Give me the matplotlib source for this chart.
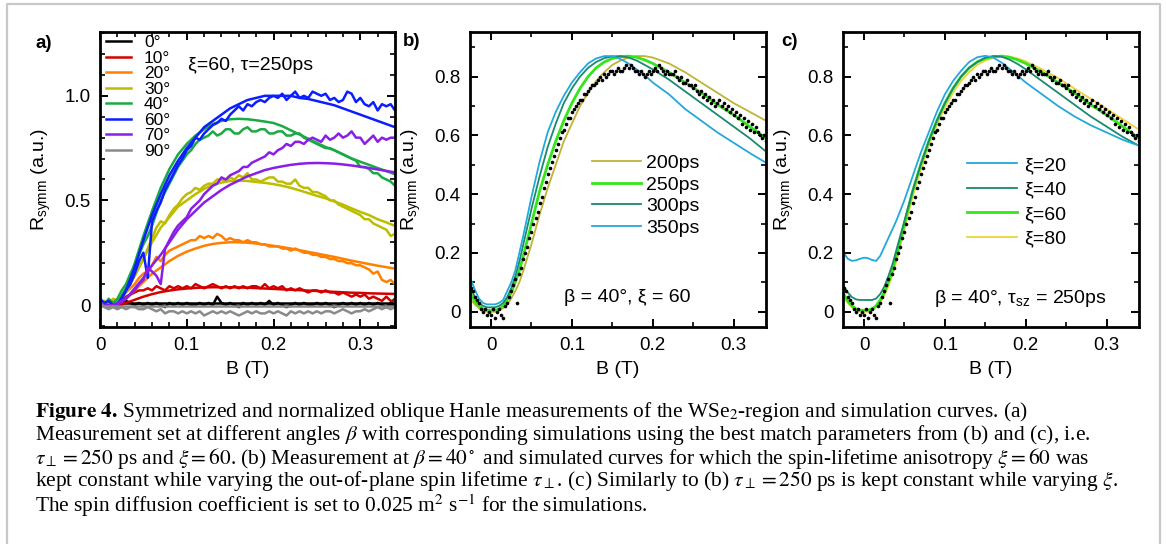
import numpy as np
import matplotlib
matplotlib.use("Agg")
import matplotlib.pyplot as plt
from matplotlib.lines import Line2D
from matplotlib.ticker import MultipleLocator, FuncFormatter

plt.rcParams['font.family'] = ['Liberation Sans', 'DejaVu Sans']
plt.rcParams['mathtext.fontset'] = 'custom'
plt.rcParams['mathtext.rm'] = 'Liberation Sans'
plt.rcParams['mathtext.it'] = 'Liberation Sans:italic'
plt.rcParams['mathtext.bf'] = 'Liberation Sans:bold'

###############################################################################
# (a) measured curves, B sweep 0 ... 0.34 T
B_meas = np.linspace(0, 0.34, 69)
angles = ['0°', '10°', '20°', '30°', '40°', '60°', '70°', '90°']
colors_a = ['#000000', '#d40000', '#ff8000', '#bdbd00', '#1aaa44', '#0a1eff', '#8a1ee6', '#8a8a8a']

meas_0 = [0.03, 0.00, 0.02, 0.00, 0.01, 0.00, 0.02, 0.01, 0.00, 0.01,
          0.00, 0.01, 0.00, 0.01, 0.00, -0.01, 0.01, 0.00, 0.01, 0.00,
          0.01, 0.00, 0.00, 0.01, 0.00, 0.01, 0.00, 0.04, 0.01, 0.00,
          0.01, 0.00, -0.01, 0.01, 0.00, 0.01, 0.00, 0.01, 0.00, 0.02,
          0.00, 0.01, 0.00, -0.01, 0.00, 0.01, 0.00, 0.01, 0.00, 0.00,
          0.01, 0.00, 0.01, 0.00, -0.01, 0.00, 0.01, 0.00, 0.01, 0.00,
          0.01, 0.00, 0.01, 0.00, 0.01, 0.00, -0.01, 0.01, 0.03]
meas_10 = [0.01, 0.00, 0.01, 0.00, 0.01, 0.02, 0.04, 0.05, 0.06, 0.07,
           0.07, 0.08, 0.07, 0.09, 0.08, 0.07, 0.09, 0.08, 0.09, 0.08,
           0.09, 0.08, 0.10, 0.09, 0.08, 0.09, 0.10, 0.09, 0.08, 0.09,
           0.08, 0.09, 0.08, 0.09, 0.08, 0.09, 0.09, 0.08, 0.10, 0.08,
           0.09, 0.08, 0.09, 0.07, 0.08, 0.07, 0.08, 0.07, 0.06, 0.07,
           0.07, 0.06, 0.07, 0.06, 0.06, 0.05, 0.06, 0.05, 0.04, 0.05,
           0.04, 0.05, 0.03, 0.04, 0.03, 0.02, 0.04, 0.02, 0.02]
meas_20 = [0.01, 0.00, 0.02, 0.01, 0.02, 0.04, 0.06, 0.08, 0.10, 0.13,
           0.15, 0.16, 0.19, 0.23, 0.21, 0.24, 0.26, 0.27, 0.28, 0.29,
           0.30, 0.31, 0.31, 0.33, 0.32, 0.33, 0.32, 0.34, 0.33, 0.31,
           0.32, 0.31, 0.31, 0.30, 0.31, 0.30, 0.30, 0.29, 0.29, 0.28,
           0.28, 0.28, 0.27, 0.27, 0.26, 0.27, 0.26, 0.25, 0.25, 0.24,
           0.24, 0.23, 0.23, 0.22, 0.22, 0.21, 0.21, 0.20, 0.20, 0.19,
           0.19, 0.18, 0.17, 0.15, 0.16, 0.12, 0.11, 0.12, 0.10]
meas_30 = [0.01, 0.02, 0.00, 0.03, 0.02, 0.04, 0.08, 0.11, 0.14, 0.18,
           0.22, 0.27, 0.32, 0.37, 0.40, 0.39, 0.43, 0.46, 0.48, 0.51,
           0.53, 0.54, 0.56, 0.55, 0.57, 0.58, 0.58, 0.60, 0.60, 0.59,
           0.61, 0.60, 0.62, 0.61, 0.63, 0.60, 0.60, 0.59, 0.60, 0.61,
           0.61, 0.59, 0.59, 0.58, 0.58, 0.60, 0.57, 0.56, 0.56, 0.54,
           0.54, 0.53, 0.52, 0.50, 0.50, 0.48, 0.47, 0.46, 0.45, 0.44,
           0.43, 0.41, 0.41, 0.39, 0.38, 0.37, 0.36, 0.33, 0.34]
meas_40 = [0.02, 0.00, 0.03, 0.01, 0.03, 0.07, 0.10, 0.15, 0.19, 0.24,
           0.29, 0.33, 0.38, 0.44, 0.50, 0.54, 0.58, 0.62, 0.66, 0.69,
           0.72, 0.74, 0.77, 0.79, 0.80, 0.81, 0.83, 0.81, 0.82, 0.84,
           0.84, 0.82, 0.82, 0.84, 0.85, 0.83, 0.83, 0.84, 0.84, 0.82,
           0.82, 0.83, 0.83, 0.81, 0.81, 0.82, 0.82, 0.80, 0.79, 0.78,
           0.77, 0.76, 0.75, 0.75, 0.74, 0.73, 0.72, 0.71, 0.70, 0.69,
           0.66, 0.66, 0.65, 0.63, 0.63, 0.61, 0.60, 0.59, 0.57]
meas_60 = [0.03, 0.01, 0.02, 0.00, -0.01, 0.03, 0.07, 0.10, 0.15, 0.21,
           0.25, 0.13, 0.40, 0.45, 0.49, 0.55, 0.59, 0.63, 0.67, 0.70,
           0.74, 0.76, 0.80, 0.79, 0.82, 0.84, 0.86, 0.87, 0.89, 0.88,
           0.91, 0.93, 0.95, 0.93, 0.96, 0.95, 0.97, 0.98, 0.97, 0.99,
           1.00, 0.99, 1.01, 0.98, 1.00, 1.02, 0.99, 1.00, 0.99, 1.02,
           1.01, 1.00, 1.01, 0.98, 0.99, 0.97, 0.98, 1.02, 1.01, 0.97,
           0.99, 0.96, 0.95, 0.97, 0.93, 0.96, 0.95, 0.96, 0.93]
meas_70 = [0.01, 0.00, -0.01, 0.00, 0.01, 0.02, 0.03, 0.05, 0.07, 0.10,
           0.12, 0.18, 0.16, 0.14, 0.10, 0.27, 0.31, 0.35, 0.38, 0.40,
           0.42, 0.46, 0.48, 0.50, 0.53, 0.55, 0.57, 0.58, 0.61, 0.60,
           0.62, 0.63, 0.64, 0.66, 0.66, 0.68, 0.69, 0.70, 0.71, 0.73,
           0.72, 0.74, 0.75, 0.77, 0.76, 0.78, 0.78, 0.77, 0.79, 0.80,
           0.79, 0.78, 0.81, 0.79, 0.80, 0.82, 0.80, 0.81, 0.83, 0.80,
           0.80, 0.77, 0.79, 0.81, 0.78, 0.80, 0.79, 0.80, 0.80]
meas_90 = [0.01, -0.01, -0.02, -0.01, -0.02, -0.01, -0.02, -0.01, -0.01, -0.02,
           -0.02, -0.01, -0.02, -0.03, -0.02, -0.04, -0.03, -0.03, -0.04, -0.03,
           -0.04, -0.03, -0.04, -0.03, -0.05, -0.04, -0.03, -0.04, -0.03, -0.04,
           -0.03, -0.04, -0.05, -0.04, -0.03, -0.04, -0.03, -0.04, -0.04, -0.03,
           -0.04, -0.03, -0.04, -0.05, -0.03, -0.04, -0.03, -0.04, -0.03, -0.04,
           -0.03, -0.04, -0.03, -0.03, -0.04, -0.03, -0.02, -0.03, -0.04, -0.03,
           -0.03, -0.02, -0.03, -0.02, -0.01, -0.02, -0.01, -0.02, -0.01]

# (a) simulations, B = 0 ... 0.34 T in 0.01 T steps
B_sim_a = np.linspace(0, 0.34, 35)
sim_0 = [0.008] * 35
sim_10 = [0.0, 0.0, 0.0, 0.01, 0.025, 0.04, 0.052, 0.062, 0.069, 0.075,
          0.079, 0.082, 0.084, 0.085, 0.085, 0.085, 0.084, 0.083, 0.081, 0.079,
          0.077, 0.075, 0.073, 0.071, 0.069, 0.067, 0.065, 0.063, 0.061, 0.059,
          0.058, 0.056, 0.055, 0.054, 0.053]
sim_20 = [0.0, 0.0, 0.005, 0.03, 0.07, 0.11, 0.15, 0.18, 0.21, 0.235,
          0.255, 0.27, 0.283, 0.292, 0.297, 0.30, 0.30, 0.298, 0.294, 0.289,
          0.283, 0.277, 0.27, 0.262, 0.254, 0.246, 0.238, 0.23, 0.221, 0.212,
          0.204, 0.196, 0.188, 0.181, 0.174]
sim_30 = [0.0, 0.0, 0.01, 0.06, 0.14, 0.22, 0.30, 0.37, 0.42, 0.47,
          0.50, 0.53, 0.555, 0.575, 0.585, 0.593, 0.595, 0.593, 0.588, 0.584,
          0.578, 0.57, 0.56, 0.548, 0.535, 0.522, 0.51, 0.495, 0.48, 0.462,
          0.445, 0.43, 0.41, 0.395, 0.378]
sim_40 = [0.0, 0.0, 0.01, 0.08, 0.20, 0.33, 0.45, 0.56, 0.65, 0.72,
          0.77, 0.81, 0.84, 0.865, 0.88, 0.888, 0.89, 0.888, 0.883, 0.877,
          0.87, 0.855, 0.835, 0.815, 0.795, 0.775, 0.755, 0.74, 0.72, 0.70,
          0.685, 0.67, 0.655, 0.64, 0.625]
sim_60 = [0.0, 0.0, 0.0, 0.07, 0.18, 0.31, 0.43, 0.53, 0.62, 0.69,
          0.75, 0.80, 0.85, 0.88, 0.91, 0.94, 0.96, 0.98, 0.99, 1.00,
          1.00, 1.00, 1.00, 0.99, 0.985, 0.975, 0.965, 0.955, 0.94, 0.925,
          0.91, 0.895, 0.88, 0.865, 0.85]
sim_70 = [0.0, 0.0, 0.0, 0.03, 0.08, 0.13, 0.19, 0.24, 0.30, 0.36,
          0.41, 0.45, 0.49, 0.52, 0.55, 0.575, 0.595, 0.615, 0.63, 0.645,
          0.655, 0.663, 0.67, 0.675, 0.678, 0.679, 0.678, 0.676, 0.672, 0.667,
          0.661, 0.655, 0.648, 0.641, 0.634]
sim_90 = [-0.005] * 35

meas_a = [meas_0, meas_10, meas_20, meas_30, meas_40, meas_60, meas_70, meas_90]
sim_a = [sim_0, sim_10, sim_20, sim_30, sim_40, sim_60, sim_70, sim_90]

###############################################################################
# (b), (c) measurement at beta = 40 deg, B sweep -0.025 ... 0.34 T
B_dots = np.linspace(-0.025, 0.34, 147)
R_dots = [0.08, 0.07, 0.05, 0.04, 0.03, 0.01, 0.00, 0.01, -0.01, 0.00,
          -0.01, 0.01, -0.02, 0.00, 0.01, -0.01, -0.02, 0.02, 0.03, 0.05,
          0.07, 0.09, 0.11, 0.03, 0.13, 0.15, 0.18, 0.20, 0.22, 0.25,
          0.27, 0.30, 0.32, 0.34, 0.37, 0.39, 0.42, 0.44, 0.47, 0.49,
          0.51, 0.53, 0.55, 0.57, 0.59, 0.61, 0.62, 0.64, 0.66, 0.66,
          0.68, 0.69, 0.70, 0.71, 0.72, 0.72, 0.74, 0.74, 0.75, 0.76,
          0.77, 0.77, 0.78, 0.79, 0.80, 0.79, 0.81, 0.80, 0.81, 0.82,
          0.82, 0.81, 0.82, 0.83, 0.82, 0.82, 0.83, 0.84, 0.83, 0.84,
          0.83, 0.82, 0.82, 0.81, 0.82, 0.81, 0.80, 0.81, 0.82, 0.81,
          0.82, 0.83, 0.82, 0.84, 0.83, 0.82, 0.81, 0.82, 0.81, 0.81,
          0.81, 0.82, 0.80, 0.79, 0.80, 0.78, 0.78, 0.79, 0.77, 0.77,
          0.76, 0.77, 0.75, 0.74, 0.75, 0.73, 0.74, 0.72, 0.73, 0.71,
          0.72, 0.70, 0.71, 0.72, 0.70, 0.71, 0.69, 0.70, 0.68, 0.69,
          0.67, 0.68, 0.66, 0.67, 0.64, 0.66, 0.63, 0.65, 0.62, 0.64,
          0.61, 0.63, 0.61, 0.60, 0.59, 0.60, 0.58]

B_sim = [-0.025, -0.02, -0.015, -0.01, -0.005, 0.0, 0.005, 0.01, 0.015, 0.02,
         0.025, 0.03, 0.035, 0.04, 0.05, 0.06, 0.07, 0.08, 0.09, 0.10,
         0.11, 0.12, 0.13, 0.14, 0.15, 0.16, 0.17, 0.18, 0.19, 0.20,
         0.22, 0.24, 0.26, 0.28, 0.30, 0.32, 0.34]

# (b) tau_perp varied, xi = 60
tau_labels = ['200ps', '250ps', '300ps', '350ps']
tau_colors = ['#c2b236', '#33e61a', '#1a8a6e', '#23a8dc']
tau_lw = [1.3, 2.0, 1.3, 1.3]
sim_200 = [0.04, 0.025, 0.012, 0.005, 0.0, 0.0, 0.0, 0.005, 0.012, 0.025,
           0.045, 0.07, 0.10, 0.14, 0.23, 0.33, 0.42, 0.50, 0.58, 0.64,
           0.70, 0.745, 0.785, 0.815, 0.84, 0.855, 0.865, 0.87, 0.87, 0.865,
           0.845, 0.815, 0.78, 0.745, 0.71, 0.68, 0.65]
sim_250 = [0.06, 0.035, 0.02, 0.01, 0.005, 0.005, 0.005, 0.01, 0.02, 0.04,
           0.065, 0.10, 0.14, 0.19, 0.30, 0.41, 0.50, 0.58, 0.65, 0.71,
           0.76, 0.80, 0.83, 0.85, 0.862, 0.868, 0.87, 0.866, 0.857, 0.845,
           0.815, 0.78, 0.745, 0.705, 0.67, 0.63, 0.59]
sim_300 = [0.08, 0.05, 0.03, 0.02, 0.015, 0.015, 0.015, 0.02, 0.03, 0.05,
           0.08, 0.12, 0.17, 0.23, 0.35, 0.46, 0.56, 0.64, 0.71, 0.76,
           0.80, 0.83, 0.85, 0.863, 0.869, 0.87, 0.865, 0.855, 0.84, 0.825,
           0.79, 0.75, 0.71, 0.67, 0.63, 0.59, 0.545]
sim_350 = [0.11, 0.075, 0.045, 0.03, 0.025, 0.025, 0.025, 0.03, 0.04, 0.07,
           0.10, 0.14, 0.20, 0.26, 0.39, 0.51, 0.61, 0.68, 0.735, 0.78,
           0.815, 0.845, 0.862, 0.87, 0.87, 0.86, 0.845, 0.825, 0.805, 0.78,
           0.74, 0.69, 0.65, 0.61, 0.575, 0.54, 0.507]
sim_tau = [sim_200, sim_250, sim_300, sim_350]

# (c) xi varied, tau_sz = 250 ps
xi_labels = ['ξ=20', 'ξ=40', 'ξ=60', 'ξ=80']
xi_colors = ['#23a8dc', '#1a8a6e', '#33e61a', '#ecd43a']
xi_lw = [1.3, 1.3, 2.0, 1.3]
sim_xi20 = [0.20, 0.18, 0.173, 0.175, 0.18, 0.184, 0.182, 0.176, 0.173, 0.19,
            0.22, 0.25, 0.28, 0.31, 0.38, 0.46, 0.54, 0.61, 0.68, 0.74,
            0.785, 0.82, 0.85, 0.866, 0.871, 0.865, 0.848, 0.826, 0.803, 0.78,
            0.74, 0.70, 0.665, 0.635, 0.61, 0.585, 0.565]
sim_xi40 = [0.085, 0.065, 0.05, 0.042, 0.04, 0.04, 0.04, 0.04, 0.045, 0.06,
            0.085, 0.12, 0.16, 0.21, 0.31, 0.41, 0.50, 0.58, 0.65, 0.71,
            0.76, 0.80, 0.83, 0.85, 0.865, 0.87, 0.868, 0.858, 0.843, 0.825,
            0.785, 0.745, 0.705, 0.665, 0.63, 0.595, 0.565]
sim_xi60 = sim_250
sim_xi80 = [0.05, 0.03, 0.015, 0.005, 0.0, 0.0, 0.0, 0.005, 0.015, 0.03,
            0.055, 0.085, 0.125, 0.17, 0.28, 0.39, 0.48, 0.565, 0.635, 0.695,
            0.745, 0.785, 0.815, 0.84, 0.855, 0.865, 0.87, 0.868, 0.862, 0.852,
            0.825, 0.795, 0.76, 0.725, 0.69, 0.655, 0.62]
sim_xi = [sim_xi20, sim_xi40, sim_xi60, sim_xi80]

###############################################################################
W, H = 1167, 544
fig = plt.figure(figsize=(W / 100, H / 100), dpi=100)


def frame(px_left, px_right):
    return [px_left / W, 1 - 327 / H, (px_right - px_left) / W, 295 / H]


def zero_fmt(v, pos):
    return '0' if abs(v) < 1e-9 else '%.1f' % v


def style(ax, xlim, ylim, xmin_step, ymaj, ymin_step):
    ax.set_xlim(*xlim)
    ax.set_ylim(*ylim)
    ax.xaxis.set_major_locator(MultipleLocator(0.1))
    ax.xaxis.set_minor_locator(MultipleLocator(xmin_step))
    ax.yaxis.set_major_locator(MultipleLocator(ymaj))
    ax.yaxis.set_minor_locator(MultipleLocator(ymin_step))
    ax.xaxis.set_major_formatter(FuncFormatter(zero_fmt))
    ax.yaxis.set_major_formatter(FuncFormatter(zero_fmt))
    ax.tick_params(which='both', direction='in', top=True, right=True,
                   labelsize=13.5, pad=7)
    ax.tick_params(which='major', length=5.5, width=1.4)
    ax.tick_params(which='minor', length=3.5, width=1.2)
    for s in ax.spines.values():
        s.set_linewidth(2)
    ax.set_xlabel('B (T)', fontsize=14)
    ax.set_ylabel(r'R$_{\rm symm}$ (a.u.)', fontsize=14)
    ax.xaxis.set_label_coords(0.5, -0.115)
    ax.yaxis.set_label_coords(-0.16, 0.5)


# ---- (a)
ax_a = fig.add_axes(frame(100, 395))
handles = []
for lab, col, ym, ys in zip(angles, colors_a, meas_a, sim_a):
    h, = ax_a.plot(B_meas, ym, color=col, lw=1.8, label=lab)
    ax_a.plot(B_sim_a, ys, color=col, lw=1.8)
    handles.append(h)
style(ax_a, (0, 0.34), (-0.105, 1.305), 0.02, 0.5, 0.1)
ax_a.legend(handles=handles, loc='upper left', bbox_to_anchor=(0.02, 0.99),
            frameon=False, fontsize=12.5, handlelength=1.45, handletextpad=0.75,
            labelspacing=0.02, borderpad=0, borderaxespad=0)
ax_a.text(0.298, 0.888, 'ξ=60, τ=250ps', transform=ax_a.transAxes,
          fontsize=14, va='center', ha='left')
fig.text(36 / W, 1 - 43 / H, 'a)', fontsize=13.5, fontweight='bold', va='center')

# ---- (b)
ax_b = fig.add_axes(frame(470, 766))
for lab, col, lw, ys in zip(tau_labels, tau_colors, tau_lw, sim_tau):
    ax_b.plot(B_sim, ys, color=col, lw=lw, label=lab)
ax_b.plot(B_dots, R_dots, 'o', color='k', ms=2.6, mew=0)
style(ax_b, (-0.026, 0.34), (-0.052, 0.952), 0.05, 0.2, 0.1)
ax_b.legend(loc='upper left', bbox_to_anchor=(0.412, 0.585), frameon=False,
            fontsize=14, handlelength=2.5, handletextpad=0.3,
            labelspacing=0.2, borderpad=0, borderaxespad=0)
ax_b.text(0.53, 0.10, 'β = 40°, ξ = 60', transform=ax_b.transAxes,
          fontsize=14, va='center', ha='center')
fig.text(403 / W, 1 - 41 / H, 'b)', fontsize=13.5, fontweight='bold', va='center')

# ---- (c)
ax_c = fig.add_axes(frame(843, 1139))
for lab, col, lw, ys in list(zip(xi_labels, xi_colors, xi_lw, sim_xi))[::-1]:
    ax_c.plot(B_sim, ys, color=col, lw=lw, label=lab)
ax_c.plot(B_dots, R_dots, 'o', color='k', ms=2.6, mew=0)
style(ax_c, (-0.026, 0.34), (-0.052, 0.952), 0.05, 0.2, 0.1)
hc, lc = ax_c.get_legend_handles_labels()
ax_c.legend(hc[::-1], lc[::-1], loc='upper left', bbox_to_anchor=(0.418, 0.578),
            frameon=False, fontsize=14, handlelength=2.6, handletextpad=0.35,
            labelspacing=0.35, borderpad=0, borderaxespad=0)
ax_c.text(0.598, 0.098, r'β = 40°, τ$_{\rm sz}$ = 250ps', transform=ax_c.transAxes,
          fontsize=14, va='center', ha='center')
fig.text(781 / W, 1 - 41 / H, 'c)', fontsize=13.5, fontweight='bold', va='center')

# ---- caption box
fig.add_artist(Line2D([7 / W, 7 / W, 1160 / W, 1160 / W], [0, 1 - 4 / H, 1 - 4 / H, 0],
                      transform=fig.transFigure, color='#c8c8c8', lw=1.6))

caption = '\n'.join([
    r'$\mathbf{Figure\ 4.}\,$Symmetrized and normalized oblique Hanle measurements of the '
    r'WSe$_2$-region and simulation curves. (a)',
    r'Measurement set at different angles $\beta$ with corresponding simulations '
    r'using the best match parameters from (b) and (c), i.e.',
    r'$\tau_\perp = 250$ ps and $\xi = 60$. (b) Measurement at $\beta = 40^\circ$ and '
    r'simulated curves for which the spin-lifetime anisotropy $\xi = 60$ was',
    r'kept constant while varying the out-of-plane spin lifetime $\tau_\perp$. '
    r'(c) Similarly to (b) $\tau_\perp = 250$ ps is kept constant while varying $\xi$.',
    r'The spin diffusion coefficient is set to 0.025 m$^2$ s$^{-1}$ for the simulations.',
])
fig.text(35 / W, 1 - 400 / H, caption, family='Liberation Serif', fontsize=15.4,
         math_fontfamily='stix', va='top', ha='left', linespacing=0.93)

fig.savefig('out.png', dpi=100)
